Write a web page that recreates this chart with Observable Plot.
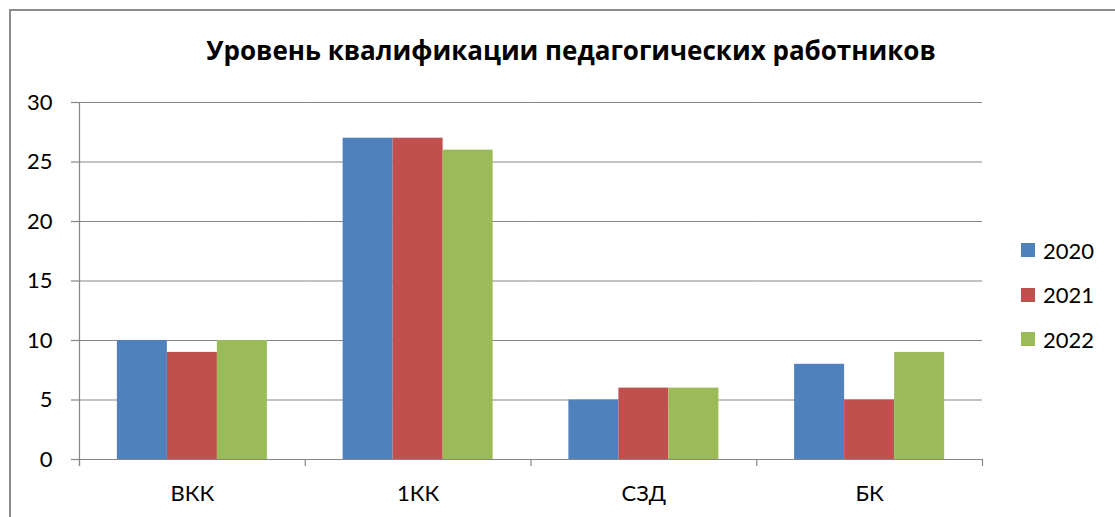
<!DOCTYPE html>
<html>
<head>
<meta charset="utf-8">
<script src="https://cdn.jsdelivr.net/npm/d3@7"></script>
<script src="https://cdn.jsdelivr.net/npm/@observablehq/plot@0.6"></script>
<style>
  body { margin: 0; background: #fff; }
  #wrap { position: relative; width: 1115px; height: 517px; overflow: hidden; font-family: Lato, "Liberation Sans", sans-serif; }
  #border { position: absolute; left: 9px; top: 9px; width: 1300px; height: 700px; border: 2px solid #8b8b8b; box-sizing: border-box; }
  #chart { position: absolute; left: 0; top: 0; }
  #title { position: absolute; left: 0; width: 1142px; top: 37px; text-align: center; font-family: "Open Sans", Lato, sans-serif; font-weight: bold; font-size: 26px; line-height: 26px; color: #000; white-space: nowrap; }
  #legend { position: absolute; left: 1021px; top: 239px; }
  .row { display: flex; align-items: center; height: 22px; margin-bottom: 22.5px; font-size: 22px; color: #000; }
  .sw { width: 14px; height: 14px; margin-right: 8px; }
</style>
</head>
<body>
<div id="wrap">
  <div id="border"></div>
  <div id="chart"></div>
  <div id="title"></div>
  <div id="legend"></div>
</div>
<script>
const titleText = "Уровень квалификации педагогических работников";
const categories = ["ВКК", "1КК", "СЗД", "БК"];
const years = ["2020", "2021", "2022"];
const values2020 = [10, 27, 5, 8];
const values2021 = [9, 27, 6, 5];
const values2022 = [10, 26, 6, 9];
const colors = ["#4F81BD", "#C0504D", "#9BBB59"];
const yTicks = [0, 5, 10, 15, 20, 25, 30];

const series = [values2020, values2021, values2022];
const data = categories.flatMap((c, i) => years.map((y, j) => ({category: c, year: y, value: series[j][i]})));

const gridColor = "#868686";

const plot = Plot.plot({
  width: 1115,
  height: 517,
  marginLeft: 79,
  marginRight: 133,
  marginTop: 102,
  marginBottom: 58,
  style: {fontFamily: "Lato, 'Liberation Sans', sans-serif", fontSize: "22px", color: "#000", background: "transparent"},
  fx: {domain: categories, padding: 0, round: false, label: null, axis: null},
  x: {domain: years, paddingInner: 0, paddingOuter: 0.7575, round: false, axis: null},
  y: {domain: [0, 30], label: null, axis: null},
  color: {domain: years, range: colors},
  marks: [
    Plot.gridY(yTicks, {stroke: gridColor, strokeOpacity: 1, strokeWidth: 1.2}),
    Plot.barY(data, {fx: "category", x: "year", y: "value", fill: "year"}),
    Plot.ruleY([0], {stroke: gridColor, strokeWidth: 1.2}),
    Plot.axisY({ticks: yTicks, tickSize: 8, tickPadding: 19, stroke: gridColor, strokeWidth: 1.2, fill: "#000", label: null}),
    Plot.axisFx({anchor: "bottom", tickSize: 0, tickPadding: 26, label: null, fill: "#000"})
  ]
});

// y-axis line and category boundary ticks, from the plot's own scales
const fx = plot.scale("fx");
const y = plot.scale("y");
const g = d3.select(plot).append("g").attr("stroke", gridColor).attr("stroke-width", 1.2);
const x0 = fx.apply(categories[0]);
g.append("line").attr("x1", x0 + 0.5).attr("x2", x0 + 0.5).attr("y1", y.apply(30)).attr("y2", y.apply(0) + 7);
const bounds = categories.map(c => fx.apply(c)).concat([fx.apply(categories[categories.length - 1]) + fx.bandwidth]);
bounds.forEach(b => {
  g.append("line").attr("x1", b + 0.5).attr("x2", b + 0.5).attr("y1", y.apply(0)).attr("y2", y.apply(0) + 7);
});

document.getElementById("chart").appendChild(plot);
document.getElementById("title").textContent = titleText;

const color = plot.scale("color");
const legend = document.getElementById("legend");
years.forEach(yr => {
  const row = document.createElement("div");
  row.className = "row";
  const sw = document.createElement("div");
  sw.className = "sw";
  sw.style.background = color.apply(yr);
  const t = document.createElement("span");
  t.textContent = yr;
  row.appendChild(sw);
  row.appendChild(t);
  legend.appendChild(row);
});
</script>
</body>
</html>
